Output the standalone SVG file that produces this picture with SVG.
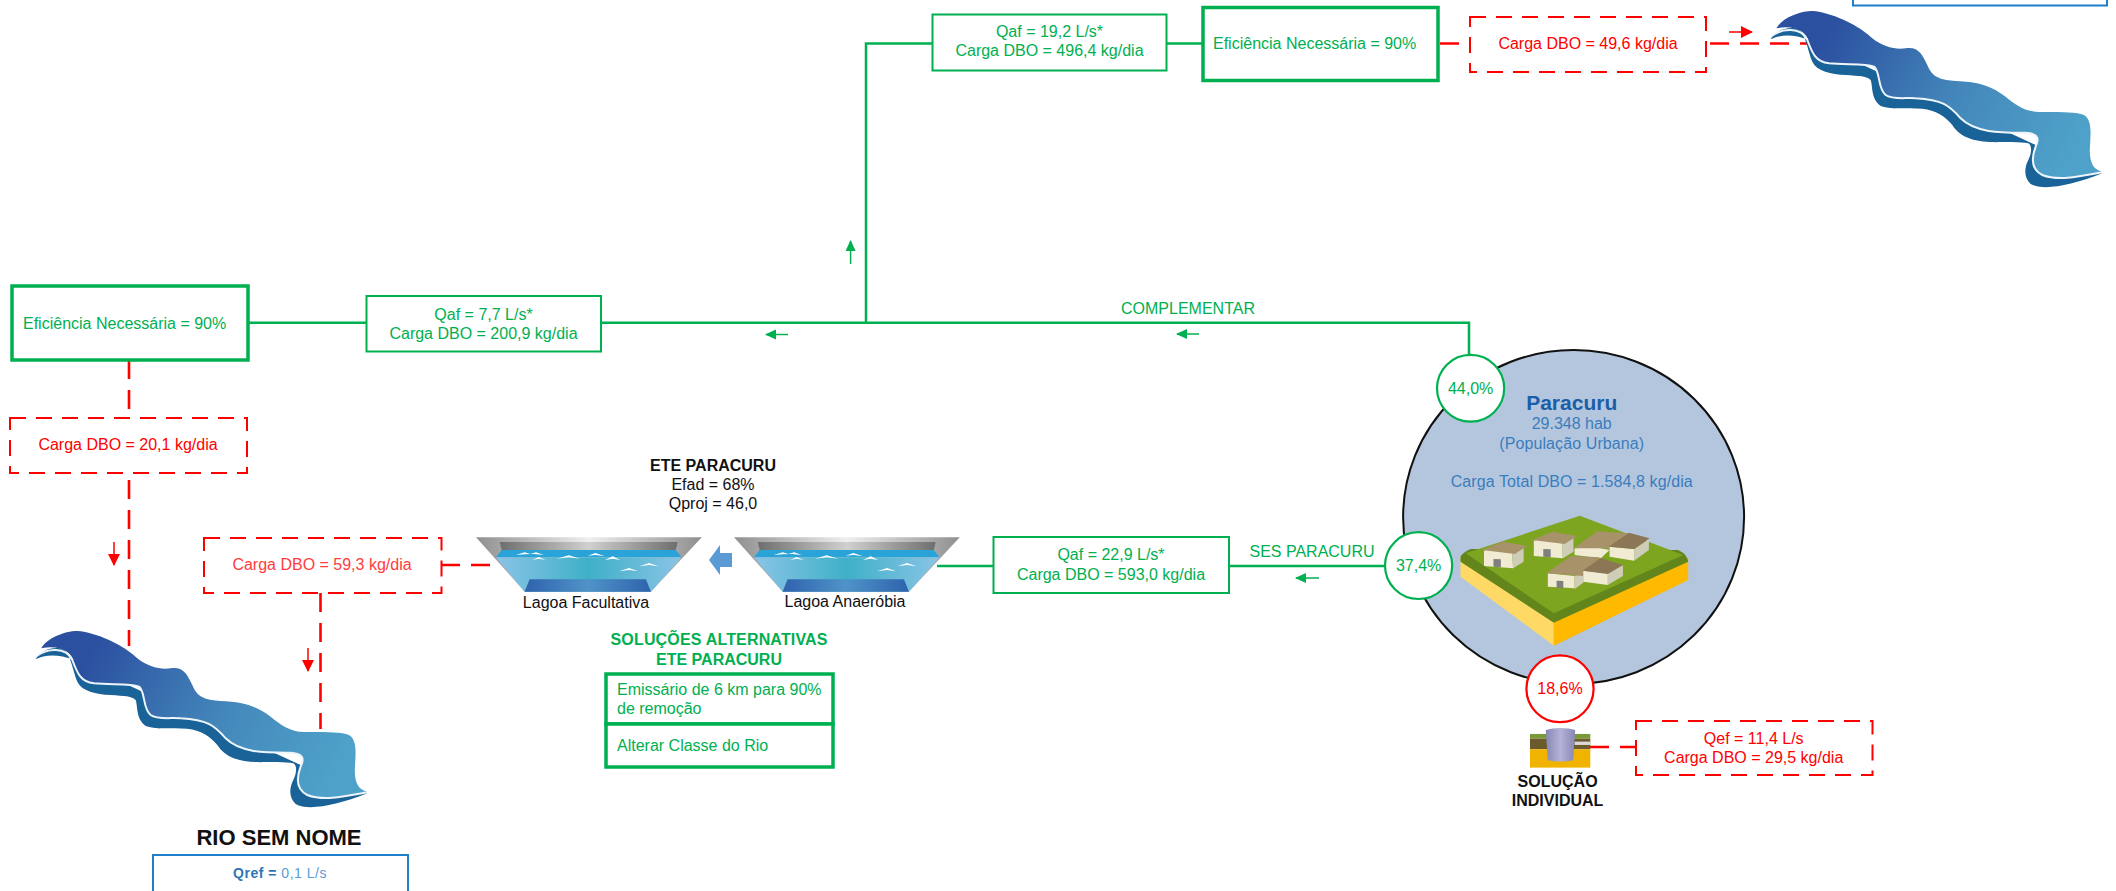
<svg xmlns="http://www.w3.org/2000/svg" xmlns:xlink="http://www.w3.org/1999/xlink" width="2116" height="891" viewBox="0 0 2116 891">
<style>
text{font-family:"Liberation Sans",Arial,sans-serif;font-size:16px;text-anchor:middle}
.g{fill:#00b050}.r{fill:#f00}.k{fill:#111}.b{fill:#3a7dbd}.l{text-anchor:start}
.bold{font-weight:bold}
.gl{fill:none;stroke:#00b050;stroke-width:2.5}
.rl{fill:none;stroke:#f00;stroke-width:2.6;stroke-dasharray:19 11}
.gb{fill:#fff;stroke:#00b050;stroke-width:2}
.gB{fill:#fff;stroke:#00b050;stroke-width:3.5}
.rb{fill:#fff;stroke:#f00;stroke-width:2;stroke-dasharray:16 10}
.bb{fill:#fff;stroke:#1f7fc9;stroke-width:2}
.gc{fill:#fff;stroke:#00b050;stroke-width:2.2}
.rc{fill:#fff;stroke:#f00;stroke-width:2.2}
.ga{stroke:#00b050;stroke-width:1.5;fill:none;marker-end:url(#mg)}
.ra{stroke:#f00;stroke-width:1.5;fill:none;marker-end:url(#mr)}
.wall{fill:#f0ebd2}.side{fill:#cfcdb8}.roof{fill:#a8926a}.roofd{fill:#8b7656}.door{fill:#7f7f7f}
</style>
<defs>
<marker id="mg" markerUnits="userSpaceOnUse" markerWidth="12" markerHeight="12" refX="10" refY="5" orient="auto"><path d="M0 0L11 5L0 10Z" fill="#00b050"/></marker>
<marker id="mr" markerUnits="userSpaceOnUse" markerWidth="12" markerHeight="14" refX="11" refY="6" orient="auto"><path d="M0 0L12 6L0 12Z" fill="#f00"/></marker>
<linearGradient id="rv" gradientUnits="userSpaceOnUse" x1="230" y1="100" x2="950" y2="470"><stop offset="0" stop-color="#2b50a0"/><stop offset=".55" stop-color="#4488bb"/><stop offset="1" stop-color="#4ea1c9"/></linearGradient>
<linearGradient id="pw" x1="0" x2="1" y1="0" y2="0"><stop offset="0" stop-color="#8ac4e6"/><stop offset=".5" stop-color="#3fb0c8"/><stop offset="1" stop-color="#8ac4e6"/></linearGradient>
<linearGradient id="pb" x1="0" x2="1" y1="0" y2="0"><stop offset="0" stop-color="#2f62ad"/><stop offset=".5" stop-color="#4f93c8"/><stop offset="1" stop-color="#2f62ad"/></linearGradient>
<linearGradient id="pg" x1="0" x2="1" y1="0" y2="0"><stop offset="0" stop-color="#8f8f8f"/><stop offset=".5" stop-color="#efefef"/><stop offset="1" stop-color="#8f8f8f"/></linearGradient>
<linearGradient id="pd" x1="0" x2="1" y1="0" y2="0"><stop offset="0" stop-color="#6e6e6e"/><stop offset=".5" stop-color="#d0d0d0"/><stop offset="1" stop-color="#6e6e6e"/></linearGradient>
<linearGradient id="cy" x1="0" x2="1" y1="0" y2="0"><stop offset="0" stop-color="#8686b4"/><stop offset=".5" stop-color="#b4b4d8"/><stop offset="1" stop-color="#8686b4"/></linearGradient>
<g id="river">
<path fill="#1a6399" d="M65 118C75 95 110 80 140 85C170 92 175 150 190 185C205 215 245 222 290 225C330 228 355 228 365 240C372 260 365 295 395 318C420 328 470 325 520 326C560 330 590 350 610 375C635 415 680 425 730 426C770 428 815 425 838 430C850 436 848 460 838 480C825 505 825 535 845 552C880 572 960 560 1060 520L1000 500L180 120C130 100 90 105 65 118Z"/>
<path fill="url(#rv)" d="M82 85C100 50 170 25 210 35C280 50 340 85 370 115C400 140 440 150 470 145C510 140 520 165 535 195C550 235 580 240 620 243C690 245 730 260 770 290C800 315 830 335 870 336C920 336 980 335 1005 345C1030 360 1025 400 1023 440C1020 480 1030 510 1060 515C1000 525 930 545 880 525C850 510 845 480 860 440C875 410 860 400 830 398C760 398 680 400 635 355C600 315 580 300 500 295C470 292 430 300 410 285C385 265 395 215 375 200C350 190 290 195 240 190C200 185 190 160 180 125C170 90 130 75 82 85Z"/>
<path fill="none" stroke="#eef5fa" stroke-width="6" d="M68 108C100 85 155 80 175 120C190 160 200 185 240 190C290 195 350 190 375 200C395 215 385 265 410 285C430 300 470 292 500 295C580 300 600 315 635 355C680 400 760 398 830 398C860 400 875 410 860 440C845 480 850 510 880 525C930 545 1000 528 1060 517"/>
</g>
<g id="pond">
<path fill="url(#pg)" d="M68 292H658L525 455H195Z"/>
<path fill="url(#pd)" d="M130 306H595L590 330H135Z"/>
<path fill="#2aa3d8" d="M135 330H590L605 352H120Z"/>
<path fill="url(#pw)" d="M120 352H605L525 455H195Z"/>
<path fill="url(#pb)" d="M208 418H512L525 455H195Z"/>
<path fill="#fff" d="M172 345L195 337L210 342L225 337L245 345L220 342L195 343ZM215 360L232 351L250 360L232 356ZM280 356L310 346L340 356L310 352ZM360 347L380 339L405 349L380 345ZM405 360L425 349L445 360L425 356ZM442 394L468 384L492 394L468 390ZM495 379L520 369L545 379L520 375Z"/>
</g>
</defs>
<rect width="2116" height="891" fill="#fff"/>
<g id="connectors">
<path class="gl" d="M248 322.7H1469V355"/>
<path class="gl" d="M866 322.7V43.5H1203"/>
<path class="gl" d="M937 566H1385"/>
<path class="rl" d="M1440 43.5H1808"/>
<path class="rl" d="M129 360V646"/>
<path class="rl" d="M441 565H497"/>
<path class="rl" d="M320.5 593V729"/>
<path class="rl" d="M1590 747H1636"/>
<path class="ga" d="M788 334.5H766"/>
<path class="ga" d="M1199 334H1177"/>
<path class="ga" d="M1319 578H1296"/>
<path class="ga" d="M850.6 264V241"/>
<path class="ra" d="M1729 32H1752"/>
<path class="ra" d="M114 542V565"/>
<path class="ra" d="M308 648V671"/>
<path d="M732 553H720V545L709 560L720 575V567H732Z" fill="#5b9bd5"/>
</g>
<g id="rio-topo"><use href="#river" transform="translate(1749 0) scale(.3333)"/></g>
<g id="rio-sem-nome"><use href="#river" transform="translate(14 620) scale(.3333)"/>
<text class="k bold" x="279" y="845" style="font-size:22px">RIO SEM NOME</text></g>
<g id="qref"><rect class="bb" x="153" y="855" width="255" height="50"/>
<text x="280" y="878" style="font-size:14px;letter-spacing:.5px"><tspan class="b bold" style="fill:#2e75b6">Qref = </tspan><tspan style="fill:#5b9bd5">0,1 L/s</tspan></text></g>
<g id="blue-box-top"><rect class="bb" x="1853" y="-20" width="254" height="25.5"/></g>
<g id="eff-top"><rect class="gB" x="1203" y="7.5" width="235" height="73"/>
<text class="g l" x="1213" y="49">Eficiência Necessária = 90%</text></g>
<g id="qaf-192"><rect class="gb" x="932.5" y="14.5" width="234" height="56"/>
<text class="g" x="1049.5" y="37">Qaf = 19,2 L/s*</text><text class="g" x="1049.5" y="56">Carga DBO = 496,4 kg/dia</text></g>
<g id="carga-496"><rect class="rb" x="1470" y="17" width="236" height="55"/>
<text class="r" x="1588" y="48.7">Carga DBO = 49,6 kg/dia</text></g>
<g id="eff-left"><rect class="gB" x="12" y="286" width="236" height="74"/>
<text class="g l" x="23" y="329">Eficiência Necessária = 90%</text></g>
<g id="qaf-77"><rect class="gb" x="366.5" y="296" width="234.5" height="55.5"/>
<text class="g" x="483.5" y="319.5">Qaf = 7,7 L/s*</text><text class="g" x="483.5" y="338.5">Carga DBO = 200,9 kg/dia</text></g>
<g id="carga-201"><rect class="rb" x="10" y="418" width="237" height="55"/>
<text class="r" x="128" y="450">Carga DBO = 20,1 kg/dia</text></g>
<g id="carga-593"><rect class="rb" x="204" y="538" width="237.5" height="55"/>
<text x="322" y="570" style="fill:#ff3c3c">Carga DBO = 59,3 kg/dia</text></g>
<g id="ete"><text class="k bold" x="713" y="471">ETE PARACURU</text><text class="k" x="713" y="490">Efad = 68%</text><text class="k" x="713" y="509">Qproj = 46,0</text></g>
<g id="lagoa-facultativa"><use href="#pond" transform="translate(450 440) scale(.3827 .3333)"/><text class="k" x="586" y="608">Lagoa Facultativa</text></g>
<g id="lagoa-anaerobia"><use href="#pond" transform="translate(708 440) scale(.3827 .3333)"/><text class="k" x="845" y="607">Lagoa Anaeróbia</text></g>
<g id="solucoes"><text class="g bold" x="719" y="645" textLength="217">SOLUÇÕES ALTERNATIVAS</text><text class="g bold" x="719" y="665">ETE PARACURU</text>
<rect class="gB" x="606" y="674" width="227" height="50"/><rect class="gB" x="606" y="724" width="227" height="43"/>
<text class="g l" x="617" y="695">Emissário de 6 km para 90%</text><text class="g l" x="617" y="714">de remoção</text><text class="g l" x="617" y="751">Alterar Classe do Rio</text></g>
<g id="qaf-229"><rect class="gb" x="993.5" y="537" width="235.5" height="56"/>
<text class="g" x="1111" y="560">Qaf = 22,9 L/s*</text><text class="g" x="1111" y="580">Carga DBO = 593,0 kg/dia</text></g>
<g id="labels"><text class="g" x="1188" y="314">COMPLEMENTAR</text><text class="g" x="1312" y="557">SES PARACURU</text></g>
<g id="paracuru"><ellipse cx="1573.6" cy="517" rx="170.5" ry="167" fill="#b4c6de" stroke="#111" stroke-width="2"/>
<text x="1571.7" y="410" class="bold" style="font-size:21px;fill:#1a5ea8">Paracuru</text>
<text class="b" x="1571.7" y="429" textLength="80">29.348 hab</text>
<text class="b" x="1571.7" y="449" textLength="145">(População Urbana)</text>
<text class="b" x="1571.7" y="487" textLength="242">Carga Total DBO = 1.584,8 kg/dia</text>
<g transform="translate(1350 330) scale(.3508 .3333)">
<path fill="#ffd966" d="M315 680L581 860V947L315 740Z"/>
<path fill="#ffb900" d="M581 860L964 680V750L581 947Z"/>
<path fill="#63861c" d="M315 680C320 670 335 660 345 657L935 660C950 668 960 675 964 695L581 878L315 695Z"/>
<path fill="#7ea51f" d="M330 670L655 557L950 675L581 850Z"/>
<path class="wall" d="M382 662L420 650L462 670L465 715L382 708Z"/><path class="side" d="M462 670L495 655V695L465 715Z"/><path class="roof" d="M376 660L435 635L505 648L470 672Z"/><path class="door" d="M409 687L430 688V712L409 710Z"/>
<path class="wall" d="M524 632L562 620L604 640L607 685L524 678Z"/><path class="side" d="M604 640L637 625V665L607 685Z"/><path class="roof" d="M518 630L577 605L647 618L612 642Z"/><path class="door" d="M551 657L572 658V682L551 680Z"/>
<path class="wall" d="M640 655L700 652L740 660L715 685L640 675Z"/><path class="roof" d="M638 655L705 604L795 610L738 655Z"/>
<path class="wall" d="M740 650L810 657V692L740 680Z"/><path class="side" d="M810 657L852 628V660L810 692Z"/><path class="roofd" d="M738 650L795 608L854 625L810 657Z"/>
<path class="wall" d="M564 730L640 738V775L564 770Z"/><path class="side" d="M640 738L665 730V758L640 778Z"/><path class="roof" d="M560 730L630 678L712 682L665 738Z"/><path class="door" d="M589 752L608 753V775L589 773Z"/>
<path class="wall" d="M665 722L735 730V765L665 755Z"/><path class="side" d="M735 730L778 705V738L735 765Z"/><path class="roofd" d="M663 722L715 684L778 705L735 732Z"/>
</g></g>
<g id="pct-44"><ellipse class="gc" cx="1470.6" cy="388.3" rx="33.6" ry="33.4"/><text class="g" x="1470.6" y="393.5">44,0%</text></g>
<g id="pct-374"><ellipse class="gc" cx="1418.6" cy="565.6" rx="33.6" ry="33.4"/><text class="g" x="1418.6" y="571">37,4%</text></g>
<g id="pct-186"><ellipse class="rc" cx="1560" cy="688.8" rx="33.6" ry="33.4"/><text class="r" x="1560" y="694">18,6%</text></g>
<g id="solucao-individual">
<g transform="translate(1350 330) scale(.3508 .3333)">
<rect x="513" y="1212" width="172" height="14" fill="#7a9a3a"/><rect x="513" y="1226" width="172" height="32" fill="#6b5a2b"/><rect x="513" y="1258" width="172" height="55" fill="#f0b400"/>
<rect x="640" y="1235" width="45" height="10" fill="#d9d9d9"/><path fill="url(#cy)" d="M558 1200C580 1192 620 1192 642 1200L636 1290C620 1296 580 1296 564 1290Z"/>
</g>
<text class="k bold" x="1557.6" y="787">SOLUÇÃO</text><text class="k bold" x="1557.6" y="806">INDIVIDUAL</text></g>
<g id="qef"><rect class="rb" x="1636" y="721" width="236.5" height="54"/>
<text class="r" x="1753.7" y="744">Qef = 11,4 L/s</text><text class="r" x="1753.7" y="763">Carga DBO = 29,5 kg/dia</text></g>
</svg>
